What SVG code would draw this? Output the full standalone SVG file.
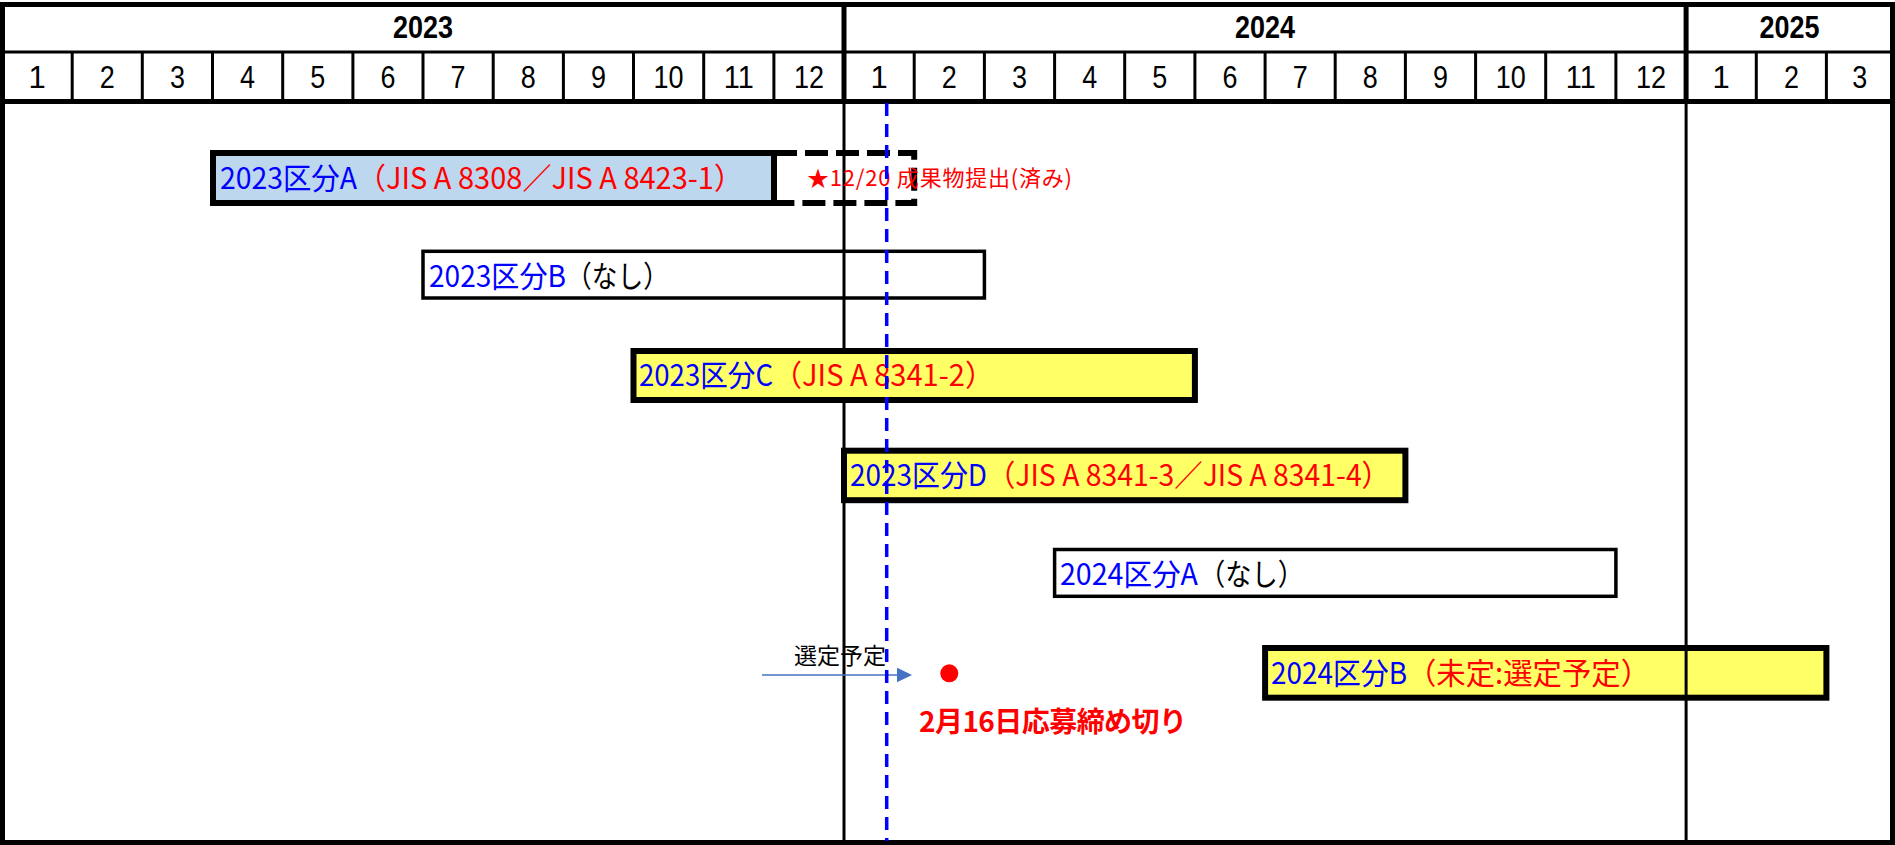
<svg xmlns="http://www.w3.org/2000/svg" width="1895" height="845" viewBox="0 0 1895 845">
<defs>
<style>
.yr{font-family:"Liberation Sans",Arial,sans-serif;font-weight:bold;font-size:31px;text-anchor:middle;fill:#000}
.mo{font-family:"Liberation Sans",Arial,sans-serif;font-size:31px;text-anchor:middle;fill:#000}
.lbl{font-family:"Noto Sans CJK JP","Noto Sans CJK SC",sans-serif;font-size:30px;font-weight:400}
.b{fill:#0000FF}.r{fill:#FF0000}.k{fill:#000}
.thick{stroke:#000;stroke-width:6}
.thin{stroke:#000;stroke-width:3.5}
.yel{fill:#FFFF66}
.grid{stroke:#000;fill:none}
</style>
<marker id="ah" markerUnits="userSpaceOnUse" markerWidth="16" markerHeight="16" refX="0" refY="7.3" orient="auto">
<path d="M0,0 L15,7.3 L0,14.6 z" fill="#4472C4"/>
</marker>
</defs>
<rect width="1895" height="845" fill="#fff"/>
<g id="grid">
<path class="grid" stroke-width="3" d="M2 52H1893"/>
<path class="grid" stroke-width="3" d="M72.2 52V101M142.3 52V101M212.5 52V101M282.7 52V101M352.9 52V101M423 52V101M493.2 52V101M563.4 52V101M633.5 52V101M703.7 52V101M773.9 52V101M914.2 52V101M984.4 52V101M1054.6 52V101M1124.7 52V101M1194.9 52V101M1265.1 52V101M1335.2 52V101M1405.4 52V101M1475.6 52V101M1545.7 52V101M1615.9 52V101M1756.3 52V101M1826.4 52V101"/>
<path class="grid" stroke-width="5" d="M844 4V101M1686.1 4V101"/>
<path class="grid" stroke-width="3" d="M844 101V843M1686.1 101V843"/>
<path class="grid" stroke-width="5" d="M2 101.5H1893"/>
<rect class="grid" stroke-width="5" x="2.5" y="4.5" width="1890" height="838"/>
<text class="yr" x="423" y="38" textLength="60" lengthAdjust="spacingAndGlyphs">2023</text>
<text class="yr" x="1265" y="38" textLength="60" lengthAdjust="spacingAndGlyphs">2024</text>
<text class="yr" x="1789.5" y="38" textLength="60" lengthAdjust="spacingAndGlyphs">2025</text>
<text class="mo" x="37.1" y="88">1</text>
<text class="mo" x="107.3" y="88" textLength="15" lengthAdjust="spacingAndGlyphs">2</text>
<text class="mo" x="177.4" y="88" textLength="15" lengthAdjust="spacingAndGlyphs">3</text>
<text class="mo" x="247.6" y="88" textLength="15" lengthAdjust="spacingAndGlyphs">4</text>
<text class="mo" x="317.8" y="88" textLength="15" lengthAdjust="spacingAndGlyphs">5</text>
<text class="mo" x="387.9" y="88" textLength="15" lengthAdjust="spacingAndGlyphs">6</text>
<text class="mo" x="458.1" y="88" textLength="15" lengthAdjust="spacingAndGlyphs">7</text>
<text class="mo" x="528.3" y="88" textLength="15" lengthAdjust="spacingAndGlyphs">8</text>
<text class="mo" x="598.5" y="88" textLength="15" lengthAdjust="spacingAndGlyphs">9</text>
<text class="mo" x="668.6" y="88" textLength="30" lengthAdjust="spacingAndGlyphs">10</text>
<text class="mo" x="738.8" y="88" textLength="30" lengthAdjust="spacingAndGlyphs">11</text>
<text class="mo" x="809" y="88" textLength="30" lengthAdjust="spacingAndGlyphs">12</text>
<text class="mo" x="879.1" y="88">1</text>
<text class="mo" x="949.3" y="88" textLength="15" lengthAdjust="spacingAndGlyphs">2</text>
<text class="mo" x="1019.5" y="88" textLength="15" lengthAdjust="spacingAndGlyphs">3</text>
<text class="mo" x="1089.7" y="88" textLength="15" lengthAdjust="spacingAndGlyphs">4</text>
<text class="mo" x="1159.8" y="88" textLength="15" lengthAdjust="spacingAndGlyphs">5</text>
<text class="mo" x="1230" y="88" textLength="15" lengthAdjust="spacingAndGlyphs">6</text>
<text class="mo" x="1300.2" y="88" textLength="15" lengthAdjust="spacingAndGlyphs">7</text>
<text class="mo" x="1370.3" y="88" textLength="15" lengthAdjust="spacingAndGlyphs">8</text>
<text class="mo" x="1440.5" y="88" textLength="15" lengthAdjust="spacingAndGlyphs">9</text>
<text class="mo" x="1510.7" y="88" textLength="30" lengthAdjust="spacingAndGlyphs">10</text>
<text class="mo" x="1580.8" y="88" textLength="30" lengthAdjust="spacingAndGlyphs">11</text>
<text class="mo" x="1651" y="88" textLength="30" lengthAdjust="spacingAndGlyphs">12</text>
<text class="mo" x="1721.2" y="88">1</text>
<text class="mo" x="1791.4" y="88" textLength="15" lengthAdjust="spacingAndGlyphs">2</text>
<text class="mo" x="1859.7" y="88" textLength="15" lengthAdjust="spacingAndGlyphs">3</text>
</g>
<g id="bar-2023A">
<rect class="thick" x="213" y="153" width="561" height="50" fill="#BDD7EE"/>
<text class="lbl b" x="220" y="188.5" textLength="137" lengthAdjust="spacingAndGlyphs">2023区分A</text>
<text class="lbl r" x="357" y="188.5" textLength="386" lengthAdjust="spacingAndGlyphs">（JIS A 8308／JIS A 8423-1）</text>
</g>
<g id="bar-2023A-extension">
<rect class="thick" x="774" y="153" width="140.2" height="50" fill="none" stroke-dasharray="23 8"/>
<text x="807" y="186" font-family="'Noto Sans CJK JP','Noto Sans CJK SC',sans-serif" font-size="22" fill="#FF0000" textLength="265">★12/20 成果物提出(済み)</text>
</g>
<g id="bar-2023B">
<rect class="thin" x="423" y="251.3" width="561.4" height="46.7" fill="none"/>
<text class="lbl b" x="429" y="287" textLength="137" lengthAdjust="spacingAndGlyphs">2023区分B</text>
<text class="lbl k" x="566" y="287" textLength="103" lengthAdjust="spacingAndGlyphs">（なし）</text>
</g>
<g id="bar-2023C">
<rect class="thick yel" x="633.5" y="351" width="561.4" height="49"/>
<text class="lbl b" x="639" y="385.5" textLength="134" lengthAdjust="spacingAndGlyphs">2023区分C</text>
<text class="lbl r" x="773" y="385.5" textLength="221" lengthAdjust="spacingAndGlyphs">（JIS A 8341-2）</text>
</g>
<g id="bar-2023D">
<rect class="thick yel" x="844" y="450.7" width="561.4" height="49.5"/>
<text class="lbl b" x="850" y="485.5" textLength="137" lengthAdjust="spacingAndGlyphs">2023区分D</text>
<text class="lbl r" x="987" y="485.5" textLength="403" lengthAdjust="spacingAndGlyphs">（JIS A 8341-3／JIS A 8341-4）</text>
</g>
<g id="bar-2024A">
<rect class="thin" x="1054.6" y="549.5" width="561.3" height="46.8" fill="none"/>
<text class="lbl b" x="1060" y="584.5" textLength="138" lengthAdjust="spacingAndGlyphs">2024区分A</text>
<text class="lbl k" x="1199" y="584.5" textLength="105" lengthAdjust="spacingAndGlyphs">（なし）</text>
</g>
<g id="bar-2024B">
<rect class="thick yel" x="1265.1" y="648" width="561.3" height="49.7"/>
<path class="grid" stroke-width="3" d="M1686.1 651V695"/>
<text class="lbl b" x="1271" y="684" textLength="136" lengthAdjust="spacingAndGlyphs">2024区分B</text>
<text class="lbl r" x="1407" y="684" textLength="243" lengthAdjust="spacingAndGlyphs">（未定:選定予定）</text>
</g>
<g id="deadline">
<circle cx="949.3" cy="673.3" r="9" fill="#FF0000"/>
<text x="919" y="732" font-family="'Noto Sans CJK JP','Noto Sans CJK SC',sans-serif" font-size="28" font-weight="bold" fill="#FF0000" textLength="268">2月16日応募締め切り</text>
</g>
<g id="connectors">
<line x1="762" y1="675" x2="897" y2="675" stroke="#4472C4" stroke-width="1.3" marker-end="url(#ah)"/>
<text x="794" y="664" font-family="'Noto Sans CJK JP','Noto Sans CJK SC',sans-serif" font-size="23" fill="#000">選定予定</text>
</g>
<g id="today-line">
<line x1="886.7" y1="103" x2="886.7" y2="841" stroke="#0000FF" stroke-width="3.5" stroke-dasharray="13 8"/>
</g>
</svg>
